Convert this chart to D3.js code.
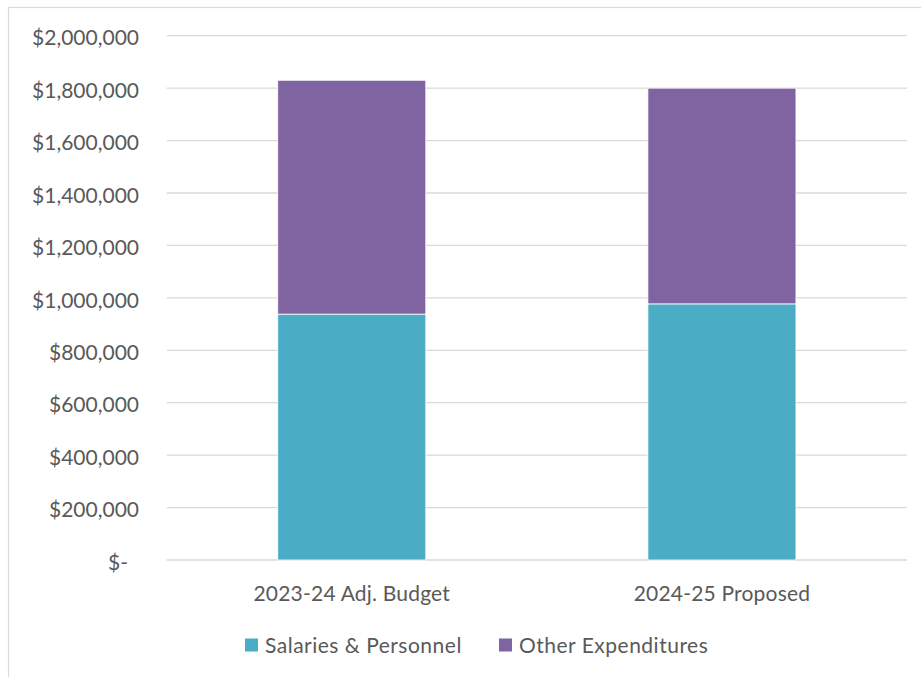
<!DOCTYPE html>
<html>
<head>
<meta charset="utf-8">
<script src="https://cdn.jsdelivr.net/npm/d3@7"></script>
<style>
  html, body { margin: 0; padding: 0; background: #fff; }
  svg { display: block; }
  text { font-family: Lato, "Open Sans", "Liberation Sans", sans-serif; fill: #595959; }
</style>
</head>
<body>
<svg id="chart" width="921" height="677"></svg>
<script>
// Budget categories and stacked series (USD)
const categories = ["2023-24 Adj. Budget", "2024-25 Proposed"];
const seriesNames = ["Salaries & Personnel", "Other Expenditures"];
const salaries = [938000, 977000];
const otherExpenditures = [892000, 823000];
const yTicks = [0, 200000, 400000, 600000, 800000, 1000000, 1200000, 1400000, 1600000, 1800000, 2000000];
const colors = ["#4BACC6", "#8064A2"];

const rows = categories.map((c, i) => ({
  category: c,
  "Salaries & Personnel": salaries[i],
  "Other Expenditures": otherExpenditures[i]
}));

const svg = d3.select("#chart");
const margin = { left: 166.7, right: 14, top: 35.7, bottom: 117 };
const W = 921, H = 677;
const fontSize = 21;

// outer chart frame
svg.append("rect")
  .attr("x", 8.5).attr("y", 7.5)
  .attr("width", 940).attr("height", 700)
  .attr("fill", "none").attr("stroke", "#d9d9d9").attr("stroke-width", 1.2);

const x = d3.scaleBand()
  .domain(categories)
  .range([margin.left, W - margin.right])
  .paddingInner(0.6).paddingOuter(0.3);

const y = d3.scaleLinear()
  .domain([0, 2000000])
  .range([H - margin.bottom, margin.top]);

// horizontal gridlines
svg.append("g")
  .selectAll("line")
  .data(yTicks)
  .join("line")
  .attr("x1", margin.left).attr("x2", W - margin.right)
  .attr("y1", d => y(d)).attr("y2", d => y(d))
  .attr("stroke", "#d9d9d9").attr("stroke-width", 1.3);

// y axis labels in accounting style
const fmt = d3.format(",");
const yAxis = d3.axisLeft(y)
  .tickValues(yTicks)
  .tickSize(0)
  .tickPadding(0)
  .tickFormat(d => d === 0 ? "$-" : "$" + fmt(d));
const gy = svg.append("g")
  .attr("transform", `translate(139,0)`)
  .call(yAxis);
gy.select(".domain").remove();
gy.selectAll("text")
  .attr("font-size", fontSize)
  .attr("fill", "#595959")
  .attr("font-family", "Lato, 'Open Sans', sans-serif")
  .attr("dy", "0.44em")
  .attr("dx", d => d === 0 ? -11 : 0);

// stacked bars
const stack = d3.stack().keys(seriesNames);
const layers = stack(rows);

svg.append("g")
  .selectAll("g")
  .data(layers)
  .join("g")
  .attr("fill", (d, i) => colors[i])
  .selectAll("rect")
  .data(d => d)
  .join("rect")
  .attr("x", d => x(d.data.category))
  .attr("width", x.bandwidth())
  .attr("y", d => y(d[1]))
  .attr("height", d => y(d[0]) - y(d[1]))
  .attr("stroke", "#ffffff")
  .attr("stroke-width", 0.8);

// category axis labels
const xAxis = d3.axisBottom(x).tickSize(0).tickPadding(0);
const gx = svg.append("g")
  .attr("transform", `translate(0,${H - margin.bottom})`)
  .call(xAxis);
gx.select(".domain").remove();
gx.selectAll("text")
  .attr("font-size", fontSize)
  .attr("fill", "#595959")
  .attr("font-family", "Lato, 'Open Sans', sans-serif")
  .attr("letter-spacing", 0.2)
  .attr("dy", 0)
  .attr("y", 40.5);

// legend
const legendItems = [
  { name: seriesNames[0], color: colors[0], x: 245 },
  { name: seriesNames[1], color: colors[1], x: 499 }
];
const lg = svg.append("g");
legendItems.forEach(it => {
  lg.append("rect")
    .attr("x", it.x).attr("y", 638.5)
    .attr("width", 13).attr("height", 13)
    .attr("fill", it.color);
  lg.append("text")
    .attr("x", it.x + 20).attr("y", 652.5)
    .attr("font-size", fontSize)
    .attr("letter-spacing", 0.5)
    .text(it.name);
});
</script>
</body>
</html>
